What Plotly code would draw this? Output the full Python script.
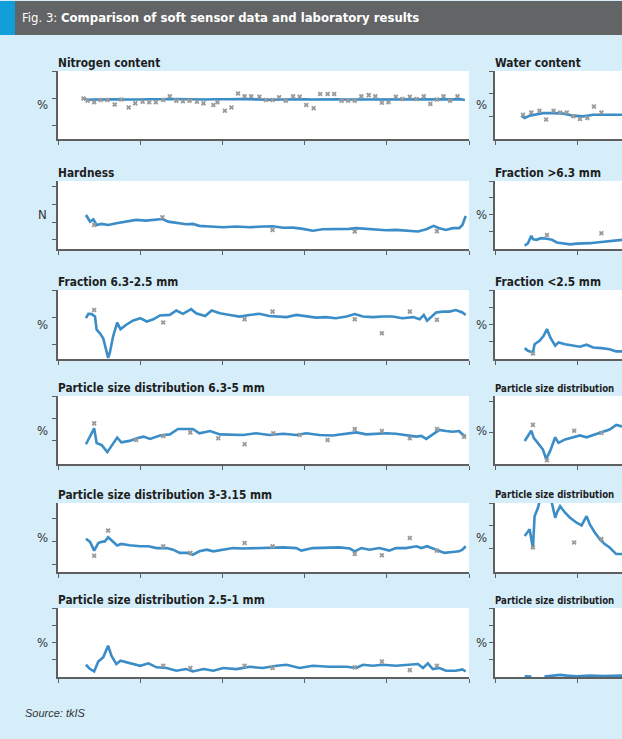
import plotly.graph_objects as go

# ---------------- data (arbitrary time units on x, arbitrary units on y) ----------------
X_TICKS = [0, 10, 20, 30, 40, 50]

# Nitrogen content
nitro_line_x = [3.1, 3.6, 4.4, 5.2, 6.0, 7.0, 8.0, 9.0, 10.0, 11.0, 12.0, 13.0, 14.0, 15.0, 16.0, 17.0,
                18.0, 19.0, 20.0, 21.0, 22.0, 23.0, 24.0, 25.0, 26.0, 27.0, 28.0, 29.0, 30.0, 31.0, 32.0,
                33.0, 34.0, 35.0, 36.0, 37.0, 38.0, 39.0, 40.0, 41.0, 42.0, 43.0, 44.0, 45.0, 46.0, 47.0,
                48.0, 49.0, 49.5]
nitro_line_y = [2.0, 1.95, 1.96, 1.97, 1.96, 1.97, 1.96, 1.95, 1.96, 1.97, 1.96, 1.97, 1.98, 1.97, 1.97,
                1.96, 1.96, 1.97, 1.96, 1.97, 1.98, 1.97, 1.97, 1.96, 1.95, 1.96, 1.97, 1.96, 1.97, 1.96,
                1.97, 1.98, 1.97, 1.96, 1.96, 1.97, 1.96, 1.97, 1.96, 1.97, 1.96, 1.97, 1.96, 1.95, 1.96,
                1.97, 1.96, 1.97, 1.94]
nitro_lab_x = [3.1, 3.6, 4.4, 5.2, 6.0, 6.9, 7.7, 8.6, 9.4, 10.3, 11.1, 11.9, 12.8, 13.6, 14.4, 15.2,
               16.0, 16.9, 17.7, 18.9, 19.4, 20.3, 21.1, 21.9, 22.7, 23.5, 24.5, 25.3, 26.1, 26.9, 27.7,
               28.6, 29.4, 30.2, 31.1, 31.9, 32.8, 33.6, 34.5, 35.3, 36.1, 36.9, 37.8, 38.6, 39.4, 40.2,
               41.1, 41.9, 42.8, 43.6, 44.5, 45.3, 46.1, 46.9, 47.7, 48.6]
nitro_lab_y = [2.0, 1.92, 1.86, 1.94, 1.94, 1.78, 1.96, 1.67, 1.82, 1.88, 1.86, 1.86, 1.94, 2.08, 1.92,
               1.90, 1.92, 1.88, 1.82, 1.76, 1.86, 1.55, 1.67, 2.18, 2.08, 2.08, 2.06, 1.94, 1.94, 2.04,
               1.92, 2.08, 2.06, 1.76, 1.64, 2.16, 2.16, 2.16, 1.92, 1.92, 1.92, 2.08, 2.12, 2.08, 1.84,
               1.86, 2.06, 1.98, 2.06, 1.98, 2.08, 1.80, 1.96, 2.08, 1.92, 2.08]

# Hardness
hard_line_x = [3.4, 3.9, 4.3, 4.7, 5.3, 6.1, 7.1, 8.3, 9.5, 10.7, 11.9, 12.7, 13.4, 14.4, 15.6, 16.4,
               17.2, 18.5, 20.1, 21.7, 23.3, 24.9, 26.1, 27.4, 28.6, 29.8, 31.0, 32.2, 33.8, 35.4, 36.3,
               37.5, 38.7, 39.9, 41.1, 42.4, 43.8, 44.8, 45.7, 46.4, 47.2, 48.0, 48.8, 49.2, 49.6]
hard_line_y = [2.41, 2.03, 2.16, 1.84, 1.90, 1.84, 1.94, 2.03, 2.13, 2.09, 2.13, 2.18, 2.03, 1.98, 1.88,
               1.90, 1.79, 1.75, 1.71, 1.75, 1.71, 1.75, 1.77, 1.68, 1.69, 1.62, 1.51, 1.60, 1.60, 1.62,
               1.66, 1.62, 1.56, 1.54, 1.56, 1.51, 1.47, 1.60, 1.79, 1.66, 1.56, 1.66, 1.66, 1.84, 2.35]
hard_lab_x = [4.4, 12.7, 26.1, 36.1, 46.1]
hard_lab_y = [1.84, 2.28, 1.56, 1.47, 1.49]

# Fraction 6.3-2.5 mm
f6325_line_x = [3.4, 3.7, 4.1, 4.5, 4.7, 5.1, 5.5, 5.8, 6.1, 6.3, 6.7, 7.2, 7.6, 8.3, 9.1, 10.0, 10.8,
                11.6, 12.4, 13.6, 14.4, 15.2, 16.2, 16.8, 17.9, 18.7, 19.7, 20.9, 22.1, 23.3, 24.5, 25.7,
                26.6, 27.8, 29.0, 30.2, 31.4, 32.6, 33.8, 35.1, 36.1, 37.1, 38.3, 39.5, 40.7, 41.9, 43.2,
                44.0, 44.5, 44.9, 45.4, 46.0, 46.8, 47.6, 48.4, 49.2, 49.6]
f6325_line_y = [1.97, 2.13, 2.12, 2.03, 1.55, 1.42, 1.24, 0.82, 0.52, 0.70, 1.30, 1.81, 1.57, 1.73, 1.88,
                1.97, 1.85, 1.93, 2.07, 2.09, 2.25, 2.13, 2.30, 2.15, 2.05, 2.25, 2.15, 2.09, 2.03, 2.09,
                2.13, 2.05, 2.03, 2.01, 2.09, 2.03, 1.99, 2.01, 1.97, 2.03, 2.12, 2.03, 2.01, 2.03, 2.03,
                1.97, 2.01, 1.93, 2.09, 1.88, 2.03, 2.18, 2.21, 2.21, 2.27, 2.18, 2.09]
f6325_lab_x = [4.4, 12.8, 22.7, 26.1, 36.1, 39.4, 42.8, 46.1]
f6325_lab_y = [2.27, 1.81, 1.93, 2.21, 1.93, 1.42, 2.21, 1.91]

# Particle size distribution 6.3-5 mm
p635_line_x = [3.4, 3.9, 4.4, 4.7, 5.3, 6.0, 6.5, 7.2, 7.7, 8.7, 9.6, 10.4, 11.2, 12.4, 13.6, 14.6, 15.6,
               16.4, 17.2, 18.5, 19.7, 20.9, 22.5, 24.1, 25.7, 27.4, 29.0, 30.2, 31.8, 33.4, 34.7, 36.3,
               37.5, 38.7, 39.9, 41.1, 42.3, 43.6, 44.2, 44.8, 45.6, 46.4, 47.2, 48.0, 48.8, 49.2, 49.6]
p635_line_y = [0.85, 1.19, 1.56, 0.90, 0.82, 0.50, 0.79, 1.15, 0.94, 1.00, 1.12, 1.19, 1.09, 1.24, 1.29,
               1.53, 1.53, 1.53, 1.34, 1.44, 1.29, 1.29, 1.26, 1.34, 1.26, 1.32, 1.26, 1.34, 1.26, 1.24,
               1.29, 1.38, 1.29, 1.32, 1.34, 1.32, 1.26, 1.19, 1.22, 1.09, 1.29, 1.49, 1.44, 1.41, 1.44,
               1.29, 1.19]
p635_lab_x = [4.4, 9.5, 12.8, 16.1, 19.5, 22.7, 26.2, 29.4, 32.8, 36.1, 39.4, 42.8, 46.1, 49.4]
p635_lab_y = [1.78, 1.04, 1.22, 1.38, 1.12, 0.85, 1.34, 1.26, 1.04, 1.53, 1.44, 1.12, 1.53, 1.19]

# Particle size distribution 3-3.15 mm
p3315_line_x = [3.4, 3.9, 4.4, 4.9, 5.3, 5.7, 6.1, 6.7, 7.2, 7.7, 8.7, 10.0, 11.0, 12.0, 13.2, 14.0,
                14.8, 15.8, 16.4, 17.2, 18.1, 18.9, 20.1, 21.3, 22.5, 24.1, 25.7, 27.4, 29.0, 29.6, 31.0,
                32.6, 34.2, 35.5, 36.1, 36.9, 37.9, 39.1, 40.3, 41.1, 42.3, 43.6, 44.2, 44.9, 45.6, 46.4,
                47.0, 48.0, 48.8, 49.2, 49.6]
p3315_line_y = [2.13, 1.99, 1.61, 1.94, 1.99, 2.01, 2.19, 2.01, 1.83, 1.90, 1.84, 1.80, 1.80, 1.72, 1.72,
                1.65, 1.51, 1.51, 1.43, 1.58, 1.65, 1.58, 1.65, 1.72, 1.70, 1.72, 1.75, 1.75, 1.72, 1.61,
                1.72, 1.72, 1.75, 1.70, 1.58, 1.72, 1.65, 1.72, 1.61, 1.72, 1.72, 1.80, 1.72, 1.80, 1.70,
                1.61, 1.51, 1.55, 1.58, 1.65, 1.80]
p3315_lab_x = [4.4, 6.1, 12.8, 16.1, 22.7, 26.1, 36.1, 39.4, 42.8, 46.1]
p3315_lab_y = [1.39, 2.48, 1.80, 1.51, 1.94, 1.80, 1.46, 1.41, 2.16, 1.61]

# Particle size distribution 2.5-1 mm
p251_line_x = [3.4, 3.9, 4.4, 4.9, 5.5, 6.1, 6.5, 7.1, 7.6, 8.7, 10.0, 11.0, 12.0, 13.2, 14.4, 15.6,
               16.4, 17.7, 18.9, 20.1, 21.7, 23.3, 24.9, 26.6, 27.8, 29.4, 31.0, 33.0, 35.1, 36.3, 37.1,
               38.3, 39.5, 41.1, 42.8, 43.8, 44.4, 45.0, 45.6, 46.4, 47.2, 48.4, 49.2, 49.6]
p251_line_y = [0.71, 0.46, 0.32, 0.90, 1.14, 1.81, 1.23, 0.75, 0.94, 0.79, 0.65, 0.79, 0.56, 0.52, 0.36,
               0.46, 0.32, 0.46, 0.36, 0.52, 0.46, 0.59, 0.52, 0.65, 0.71, 0.52, 0.65, 0.59, 0.59, 0.52,
               0.71, 0.65, 0.71, 0.65, 0.71, 0.75, 0.52, 0.79, 0.46, 0.52, 0.36, 0.36, 0.44, 0.32]
p251_lab_x = [12.8, 16.1, 22.7, 26.1, 36.1, 39.4, 42.8, 46.1]
p251_lab_y = [0.65, 0.52, 0.65, 0.52, 0.56, 0.90, 0.40, 0.65]

# Water content (right column, only the beginning is visible)
water_line_x = [3.2, 3.6, 4.2, 5.0, 5.8, 7.1, 8.3, 9.5, 10.7, 11.9, 13.1, 14.7, 15.4]
water_line_y = [1.03, 0.93, 1.03, 1.10, 1.14, 1.14, 1.12, 1.03, 1.00, 1.07, 1.07, 1.07, 1.07]
water_lab_x = [3.4, 4.4, 5.4, 6.2, 7.1, 7.9, 8.7, 9.5, 10.3, 11.2, 12.0, 12.9]
water_lab_y = [1.07, 1.17, 1.25, 0.86, 1.25, 1.17, 1.17, 1.00, 0.88, 0.93, 1.43, 1.17]

# Fraction >6.3 mm
fgt63_line_x = [3.6, 4.0, 4.4, 4.6, 5.0, 5.6, 6.3, 6.9, 7.5, 8.3, 9.1, 9.9, 10.7, 11.5, 12.3, 13.1, 13.9,
                14.7, 15.4]
fgt63_line_y = [0.12, 0.27, 0.71, 0.51, 0.47, 0.57, 0.53, 0.47, 0.31, 0.24, 0.20, 0.24, 0.24, 0.27, 0.31,
                0.35, 0.39, 0.43, 0.47]
fgt63_lab_x = [6.3, 12.9]
fgt63_lab_y = [0.76, 0.86]

# Fraction <2.5 mm
flt25_line_x = [3.6, 4.0, 4.6, 4.8, 5.4, 5.9, 6.3, 6.7, 7.3, 7.7, 8.5, 9.5, 10.3, 11.1, 11.9, 12.9, 13.9,
                14.7, 15.4]
flt25_line_y = [0.63, 0.48, 0.38, 0.86, 1.06, 1.35, 1.74, 1.25, 0.77, 0.96, 0.86, 0.77, 0.71, 0.83, 0.67,
                0.63, 0.57, 0.44, 0.44]
flt25_lab_x = [4.6]
flt25_lab_y = [0.32]

# Particle size distribution (right column, 1st)
pra_line_x = [3.6, 4.0, 4.4, 4.7, 5.2, 5.8, 6.2, 6.7, 7.3, 7.7, 8.5, 9.5, 10.3, 11.1, 12.1, 13.1, 13.9,
              14.7, 15.4]
pra_line_y = [0.74, 0.89, 1.07, 0.84, 0.68, 0.47, 0.16, 0.43, 0.86, 0.68, 0.79, 0.86, 0.92, 0.86, 0.95,
              1.03, 1.11, 1.26, 1.21]
pra_lab_x = [4.6, 6.3, 9.6, 12.9]
pra_lab_y = [1.26, 0.12, 1.07, 1.00]

# Particle size distribution (right column, 2nd)
prb_line_x = [3.6, 4.2, 4.6, 4.8, 5.2, 5.5, 6.0, 6.7, 6.9, 7.3, 7.5, 7.9, 8.5, 9.1, 9.9, 10.5, 11.1,
              11.5, 12.1, 12.7, 13.3, 13.9, 14.7, 15.4]
prb_line_y = [1.55, 1.84, 1.00, 2.42, 2.78, 3.22, 3.87, 3.22, 3.00, 2.35, 2.57, 2.86, 2.57, 2.35, 2.13,
              2.01, 2.42, 2.06, 1.70, 1.41, 1.19, 1.04, 0.75, 0.75]
prb_lab_x = [4.6, 9.6, 12.9]
prb_lab_y = [1.04, 1.26, 1.41]

# Particle size distribution (right column, 3rd)
prc_line_x = [3.6, 4.4, 5.0, 6.0, 6.9, 7.9, 8.7, 9.9, 11.5, 13.1, 15.4]
prc_line_y = [0.04, 0.02, None, 0.02, 0.08, 0.12, 0.08, 0.04, 0.08, 0.05, 0.08]
prc_lab_x = []
prc_lab_y = []

TITLES_LEFT = ["Nitrogen content", "Hardness", "Fraction 6.3-2.5 mm",
               "Particle size distribution 6.3-5 mm", "Particle size distribution 3-3.15 mm",
               "Particle size distribution 2.5-1 mm"]
TITLES_RIGHT = ["Water content", "Fraction >6.3 mm", "Fraction <2.5 mm",
                "Particle size distribution", "Particle size distribution",
                "Particle size distribution"]
UNITS_LEFT = ["%", "N", "%", "%", "%", "%"]
UNITS_RIGHT = ["%", "%", "%", "%", "%", "%"]

# ---------------- layout constants ----------------
W, H = 622, 739
BG = "#d5eefa"
LINE_BLUE = "#3b8dc7"
LAB_GREY = "#999999"
AX_COL = "#5f5f5f"
COND = "Liberation Sans Narrow, DejaVu Sans Condensed, Arial Narrow, sans-serif"

ROW_TOP = [71, 181, 290, 396, 503, 608]
ROW_BOT = [139, 249, 359, 464, 572, 677]
LEFT_X = (58, 469)
RIGHT_X = (495, 622)


def py(p):
    return 1 - p / H


def px(p):
    return p / W


left_panels = [
    (nitro_line_x, nitro_line_y, nitro_lab_x, nitro_lab_y, [0.52, 3.0], [1, 2, 3]),
    (hard_line_x, hard_line_y, hard_lab_x, hard_lab_y, [0.475, 4.34], [1, 2, 3, 4]),
    (f6325_line_x, f6325_line_y, f6325_lab_x, f6325_lab_y, [0.48, 3.0], [1, 2, 3]),
    (p635_line_x, p635_line_y, p635_lab_x, p635_lab_y, [-0.03, 3.0], [1, 2, 3]),
    (p3315_line_x, p3315_line_y, p3315_lab_x, p3315_lab_y, [0.68, 3.68], [1, 2, 3]),
    (p251_line_x, p251_line_y, p251_lab_x, p251_lab_y, [0.0, 4.0], [1, 2, 3, 4]),
]
right_panels = [
    (water_line_x, water_line_y, water_lab_x, water_lab_y, [0.0, 3.0], [1, 2, 3]),
    (fgt63_line_x, fgt63_line_y, fgt63_lab_x, fgt63_lab_y, [-0.08, 4.0], [1, 2, 3, 4]),
    (flt25_line_x, flt25_line_y, flt25_lab_x, flt25_lab_y, [0.0, 4.0], [1, 2, 3, 4]),
    (pra_line_x, pra_line_y, pra_lab_x, pra_lab_y, [0.0, 2.19], [1, 2]),
    (prb_line_x, prb_line_y, prb_lab_x, prb_lab_y, [-0.04, 3.0], [1, 2, 3]),
    (prc_line_x, prc_line_y, prc_lab_x, prc_lab_y, [0.0, 4.0], [1, 2, 3, 4]),
]

fig = go.Figure()
layout = dict(
    width=W, height=H, margin=dict(l=0, r=0, t=0, b=0),
    paper_bgcolor=BG, plot_bgcolor="white", showlegend=False,
    font=dict(family=COND, color="#222"),
)
annotations = []
shapes = []

k = 0
for col, (panels, titles, units, xdom, xr) in enumerate([
        (left_panels, TITLES_LEFT, UNITS_LEFT, LEFT_X, [0, 50]),
        (right_panels, TITLES_RIGHT, UNITS_RIGHT, RIGHT_X, [0, 15.4])]):
    for r, (lx, ly, mx, my, yr, yt) in enumerate(panels):
        k += 1
        sfx = "" if k == 1 else str(k)
        fig.add_trace(go.Scatter(x=lx, y=ly, mode="lines", xaxis="x" + sfx, yaxis="y" + sfx,
                                 line=dict(color=LINE_BLUE, width=2.6), connectgaps=False,
                                 hoverinfo="skip"))
        fig.add_trace(go.Scatter(x=mx, y=my, mode="markers", xaxis="x" + sfx, yaxis="y" + sfx,
                                 marker=dict(symbol="x", size=4.5, color=LAB_GREY, line=dict(width=0)),
                                 hoverinfo="skip"))
        layout["xaxis" + sfx] = dict(
            domain=[px(xdom[0]), px(xdom[1])], anchor="y" + sfx, range=xr,
            showline=True, linecolor=AX_COL, linewidth=1.5, ticks="outside", ticklen=4,
            tickcolor=AX_COL, tickwidth=1.2, tickvals=X_TICKS, showticklabels=False,
            showgrid=False, zeroline=False, fixedrange=True)
        layout["yaxis" + sfx] = dict(
            domain=[py(ROW_BOT[r]), py(ROW_TOP[r])], anchor="x" + sfx, range=yr,
            showline=True, linecolor=AX_COL, linewidth=1.5, ticks="outside", ticklen=4,
            tickcolor=AX_COL, tickwidth=1.2, tickvals=yt, showticklabels=False,
            showgrid=False, zeroline=False, fixedrange=True)
        long_right = col == 1 and titles[r].startswith("Particle")
        annotations.append(dict(
            text="<b>" + titles[r] + "</b>", xref="paper", yref="paper",
            x=px(xdom[0] - 2), y=py(ROW_TOP[r] - 8), xanchor="left", yanchor="middle",
            showarrow=False,
            font=dict(size=9.6 if long_right else 11.8, color="#1e1e1e", family=COND)))
        annotations.append(dict(
            text=units[r], xref="paper", yref="paper",
            x=px(42 if col == 0 else 481), y=py((ROW_TOP[r] + ROW_BOT[r]) / 2),
            xanchor="center", yanchor="middle", showarrow=False,
            font=dict(size=13, color="#333", family=COND)))

# header bar
shapes.append(dict(type="rect", xref="paper", yref="paper", x0=0, x1=1, y0=py(35), y1=py(1),
                   fillcolor="#636466", line=dict(width=0), layer="below"))
shapes.append(dict(type="rect", xref="paper", yref="paper", x0=0, x1=px(15), y0=py(35), y1=py(1),
                   fillcolor="#129fd9", line=dict(width=0), layer="below"))
annotations.append(dict(
    text="Fig. 3: <b>Comparison of soft sensor data and laboratory results</b>",
    xref="paper", yref="paper", x=px(20), y=py(18), xanchor="left", yanchor="middle",
    showarrow=False, font=dict(size=13, color="white", family=COND)))
annotations.append(dict(
    text="<i>Source: tkIS</i>", xref="paper", yref="paper", x=px(23), y=py(713),
    xanchor="left", yanchor="middle", showarrow=False,
    font=dict(size=11, color="#333", family="Liberation Sans, Arial, sans-serif")))

layout["annotations"] = annotations
layout["shapes"] = shapes
fig.update_layout(**layout)
fig.write_html("out.html", config={"displayModeBar": False},
               post_script="document.body.style.margin='0';document.body.style.overflow='hidden';")
